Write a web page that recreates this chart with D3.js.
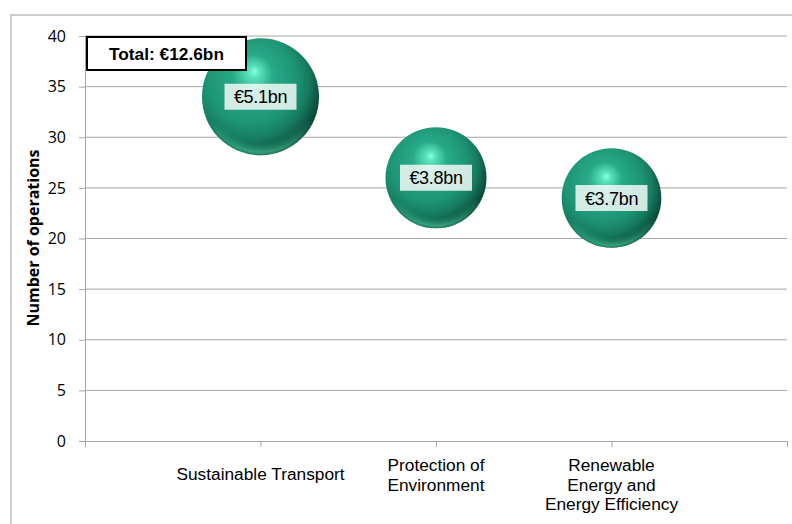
<!DOCTYPE html>
<html><head><meta charset="utf-8">
<script src="https://cdn.jsdelivr.net/npm/d3@7"></script>
<style>body{margin:0;background:#fff}svg{display:block}</style>
</head><body>
<svg id="c" width="792" height="524"></svg>
<script>
const categories = ["Sustainable Transport", "Protection of\nEnvironment", "Renewable\nEnergy and\nEnergy Efficiency"];
const xValues = [1, 2, 3];
const operations = [34, 26, 24];
const amountsBn = [5.1, 3.8, 3.7];
const bubbleLabels = ["€5.1bn", "€3.8bn", "€3.7bn"];
const yTicks = [0, 5, 10, 15, 20, 25, 30, 35, 40];
const totalLabel = "Total: €12.6bn";
const yTitle = "Number of operations";

const svg = d3.select("#c");
const x = d3.scaleLinear().domain([0, 4]).range([85, 787]);
const y = d3.scaleLinear().domain([0, 40]).range([441, 36]);
const r = d3.scaleSqrt().domain([0, 5.1]).range([0, 58.5]);

// outer frame
svg.append("rect").attr("x", 11).attr("y", 15).attr("width", 800).attr("height", 540)
  .attr("fill", "none").attr("stroke", "#bdbdbd").attr("stroke-width", 1.5);

// defs
const defs = svg.append("defs");
const g1 = defs.append("radialGradient").attr("id", "ball")
  .attr("cx", 0.4).attr("cy", 0.4).attr("r", 0.66).attr("fx", 0.45).attr("fy", 0.28);
[[0, "#88ffe0"], [0.08, "#58e0b8"], [0.26, "#28a987"], [0.58, "#1d9575"], [0.76, "#167a5e"], [0.9, "#0c5441"], [1, "#053a2b"]]
  .forEach(([o, c]) => g1.append("stop").attr("offset", o).attr("stop-color", c));
const g2 = defs.append("radialGradient").attr("id", "rim")
  .attr("cx", 0.5).attr("cy", 0.5).attr("r", 0.5);
[[0, "rgba(70,210,160,0)"], [0.78, "rgba(70,210,160,0)"], [0.95, "rgba(90,225,175,0.6)"], [1, "rgba(60,190,145,0.4)"]]
  .forEach(([o, c]) => g2.append("stop").attr("offset", o).attr("stop-color", c));
const lin = defs.append("linearGradient").attr("id", "rimMaskGrad").attr("x1", 0).attr("y1", 0).attr("x2", 0).attr("y2", 1);
[[0, "black"], [0.7, "black"], [1, "white"]].forEach(([o, c]) => lin.append("stop").attr("offset", o).attr("stop-color", c));
const mask = defs.append("mask").attr("id", "rimMask").attr("maskContentUnits", "objectBoundingBox");
mask.append("rect").attr("width", 1).attr("height", 1).attr("fill", "url(#rimMaskGrad)");

// gridlines
svg.append("g").selectAll("line").data(yTicks.filter(d => d > 0)).join("line")
  .attr("x1", x(0)).attr("x2", x(4)).attr("y1", d => y(d)).attr("y2", d => y(d))
  .attr("stroke", "#a6a6a6").attr("stroke-width", 1);

// y axis
const yAxis = svg.append("g").attr("transform", `translate(${x(0)},0)`)
  .call(d3.axisLeft(y).tickValues(yTicks).tickSize(6).tickPadding(13));
yAxis.select(".domain").attr("stroke", "#a6a6a6");
yAxis.selectAll(".tick line").attr("stroke", "#a6a6a6");
yAxis.selectAll(".tick text").attr("font-family", "'Open Sans', sans-serif").attr("font-size", 16).attr("fill", "#000");

// x axis
const xAxis = svg.append("g").attr("transform", `translate(0,${y(0)})`)
  .call(d3.axisBottom(x).tickValues([0, 1, 2, 3, 4]).tickSize(6).tickFormat(""));
xAxis.select(".domain").attr("stroke", "#a6a6a6");
xAxis.selectAll(".tick line").attr("stroke", "#a6a6a6");

// category labels
const cat = svg.append("g").selectAll("text").data(categories).join("text")
  .attr("x", (d, i) => x(xValues[i]))
  .attr("y", d => d.includes("\n") ? 471 : 480)
  .attr("text-anchor", "middle").attr("font-family", "'Liberation Sans', Arial, sans-serif")
  .attr("font-size", 17.3).attr("fill", "#000");
cat.each(function(d) {
  const t = d3.select(this);
  d.split("\n").forEach((line, j) => {
    t.append("tspan").attr("x", t.attr("x")).attr("dy", j === 0 ? 0 : 19.5).text(line);
  });
});

// y title
svg.append("text").attr("transform", "translate(39,238) rotate(-90)")
  .attr("text-anchor", "middle").attr("font-family", "'Open Sans', sans-serif")
  .attr("font-weight", "bold").attr("font-size", 16).attr("fill", "#000").text(yTitle);

// bubbles
const b = svg.append("g").selectAll("g").data(operations).join("g")
  .attr("transform", (d, i) => `translate(${x(xValues[i])},${y(d)})`);
b.append("circle").attr("r", (d, i) => r(amountsBn[i])).attr("fill", "url(#ball)");
b.append("circle").attr("r", (d, i) => r(amountsBn[i])).attr("fill", "url(#rim)").attr("mask", "url(#rimMask)");

// bubble labels
b.append("rect").attr("x", -36).attr("y", -13).attr("width", 72).attr("height", 26)
  .attr("fill", "rgba(255,255,255,0.8)");
b.append("text").attr("text-anchor", "middle").attr("dy", 6.5)
  .attr("font-family", "'Liberation Sans', Arial, sans-serif").attr("font-size", 18)
  .attr("letter-spacing", -0.3)
  .attr("fill", "#000").text((d, i) => bubbleLabels[i]);

// total box
svg.append("rect").attr("x", 87).attr("y", 37).attr("width", 159).attr("height", 33)
  .attr("fill", "#fff").attr("stroke", "#000").attr("stroke-width", 2);
svg.append("text").attr("x", 166.5).attr("y", 60).attr("text-anchor", "middle")
  .attr("font-family", "'Liberation Sans', Arial, sans-serif").attr("font-weight", "bold")
  .attr("font-size", 17.3).attr("fill", "#000").text(totalLabel);
</script>
</body></html>
